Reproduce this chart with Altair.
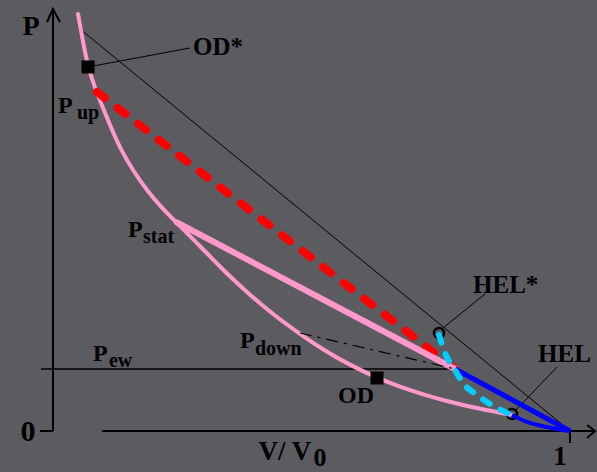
import altair as alt
import pandas as pd

# Plot frame in data units (V/V0 horizontally, P vertically)
V_MIN, V_MAX = -0.1025, 1.0522
P_MIN, P_MAX = -0.0972, 1.0213
BG = "#5c5b60"

# Pink loading curve (cold compression branch), V/V0 vs P
curve_v = [0.0484, 0.0580, 0.0677, 0.0812, 0.0967, 0.1141, 0.1335, 0.1567, 0.1838,
           0.2108, 0.2398, 0.2843, 0.3327, 0.3810, 0.4294, 0.4778, 0.5261, 0.5745,
           0.6228, 0.6712, 0.7195, 0.7679, 0.8259, 0.8878]
curve_p = [0.9882, 0.9218, 0.8626, 0.8128, 0.7654, 0.7133, 0.6611, 0.6137, 0.5664,
           0.5284, 0.4929, 0.4384, 0.3768, 0.3223, 0.2725, 0.2299, 0.1896, 0.1564,
           0.1280, 0.1043, 0.0853, 0.0687, 0.0521, 0.0379]

# Blue elastic branch from HEL down to V/V0 = 1
elastic_v = [0.8878, 0.9033, 0.9226, 0.9555, 0.9865, 1.0]
elastic_p = [0.0379, 0.0284, 0.0190, 0.0095, 0.0024, 0.0]

# Cyan dashed transition from HEL* to HEL
trans_v = [0.7466, 0.7582, 0.7776, 0.7930, 0.8201, 0.8395, 0.8588, 0.8839]
trans_p = [0.2275, 0.1848, 0.1445, 0.1137, 0.0853, 0.0687, 0.0545, 0.0403]

# Characteristic states
J_V, J_P = 0.7776, 0.1469          # P_ew state on the elastic line
STAT_V, STAT_P = 0.2398, 0.4941    # P_stat
UP_V, UP_P = 0.0851, 0.8033        # P_up
DOWN_V, DOWN_P = 0.4778, 0.2322    # P_down
RAY_V, RAY_P = 0.0522, 0.9526      # start of the thin Rayleigh line

marker_names = ["OD*", "OD", "HEL*", "HEL"]
marker_v = [0.0677, 0.6267, 0.7466, 0.8878]
marker_p = [0.8626, 0.1256, 0.2322, 0.0403]

# Leader lines: (v1, p1, v2, p2)
leaders = [
    (0.0677, 0.8626, 0.2650, 0.9076),
    (0.7544, 0.2441, 0.8356, 0.3246),
    (0.8936, 0.0474, 0.9749, 0.1517),
]

# Axes pieces: (v1, p1, v2, p2)
axis_segments = [
    (0.0, 0.0, 0.0, 1.0),          # P axis
    (-0.0251, 0.0, 0.0, 0.0),      # tick at 0
    (0.0948, 0.0, 1.0464, 0.0),    # V/V0 axis
    (1.0, 0.0, 1.0, -0.0284),      # tick at 1
]
arrow_heads = [
    ("y", [-0.0116, 0.0, 0.0135], [0.9692, 1.0, 0.9692]),
    ("x", [1.0329, 1.0484, 1.0329], [0.0142, 0.0, -0.0166]),
]

# Labels: text, v, p, font size
labels_left = [
    ("P", 0.0097, 0.7536, 24), ("up", 0.0464, 0.7393, 20),
    ("P", 0.1451, 0.4597, 24), ("stat", 0.1741, 0.4455, 20),
    ("P", 0.0774, 0.1659, 24), ("ew", 0.1083, 0.1517, 20),
    ("P", 0.3617, 0.1967, 24), ("down", 0.3907, 0.1801, 20),
    ("OD*", 0.2708, 0.8910, 25),
    ("OD", 0.5513, 0.0664, 24),
    ("HEL*", 0.8124, 0.3270, 25),
    ("HEL", 0.9381, 0.1635, 25),
]
labels_center = [
    ("P", -0.0426, 0.9384, 28),
    ("0", -0.0484, -0.0237, 30),
    ("1", 0.9807, -0.0806, 27),
    ("V/ V", 0.4487, -0.0687, 27),
    ("0", 0.5164, -0.0829, 26),
]

xs = alt.Scale(domain=[V_MIN, V_MAX], nice=False, zero=False)
ys = alt.Scale(domain=[P_MIN, P_MAX], nice=False, zero=False)
X = alt.X("v:Q", scale=xs, axis=None)
Y = alt.Y("p:Q", scale=ys, axis=None)


def path(vs, ps):
    return pd.DataFrame({"v": vs, "p": ps, "i": range(len(vs))})


def segs(rows):
    return pd.DataFrame(rows, columns=["v", "p", "v2", "p2"])


def seg_layer(rows, **style):
    return alt.Chart(segs(rows)).mark_rule(**style).encode(
        x=X, y=Y, x2="v2:Q", y2="p2:Q")


def line_layer(vs, ps, **style):
    return alt.Chart(path(vs, ps)).mark_line(**style).encode(
        x=X, y=Y, order="i:Q")


# thin Rayleigh line and leaders
ray = seg_layer([(RAY_V, RAY_P, 1.0, 0.0)], color="black", strokeWidth=1)
leader_lines = seg_layer(leaders, color="black", strokeWidth=1)
ew_line = seg_layer([(-0.0232, J_P, J_V, J_P)], color="black", strokeWidth=1.5)
down_line = seg_layer([(DOWN_V, DOWN_P, J_V, J_P)], color="black",
                      strokeWidth=1.2, strokeDash=[12, 6, 3, 6])
axes = seg_layer(axis_segments, color="black", strokeWidth=2)

arrow_df = pd.concat([
    pd.DataFrame({"a": name, "v": vs, "p": ps, "i": range(3)})
    for name, vs, ps in arrow_heads
])
arrows = alt.Chart(arrow_df).mark_line(color="black", strokeWidth=2).encode(
    x=X, y=Y, detail="a:N", order="i:Q")

pink_curve = line_layer(curve_v, curve_p, color="#ff99cc", strokeWidth=4,
                        interpolate="basis", strokeCap="round")
pink_straight = seg_layer([(STAT_V, STAT_P, J_V, J_P)], color="#ff99cc",
                          strokeWidth=6, strokeCap="round")
red_dash = seg_layer([(UP_V, UP_P, J_V, J_P)], color="#ff0000", strokeWidth=8,
                     strokeDash=[10, 16], strokeCap="round")
blue_straight = seg_layer([(J_V, J_P, 1.0, 0.0)], color="#0000ff", strokeWidth=5)
blue_curve = line_layer(elastic_v, elastic_p, color="#0000ff", strokeWidth=4,
                        interpolate="monotone")
cyan_dash = line_layer(trans_v, trans_p, color="#00ccff", strokeWidth=6,
                       strokeDash=[8, 12], strokeCap="round",
                       interpolate="monotone")

mk = pd.DataFrame({"name": marker_names, "v": marker_v, "p": marker_p})
squares = alt.Chart(mk[mk["name"].str.startswith("OD")]).mark_square(
    color="black", size=169, opacity=1).encode(x=X, y=Y)
circles = alt.Chart(mk[mk["name"].str.startswith("HEL")]).mark_point(
    shape="circle", filled=False, color="black", strokeWidth=2.5, size=100,
    opacity=1).encode(x=X, y=Y)

lab_l = pd.DataFrame(labels_left, columns=["t", "v", "p", "s"])
lab_c = pd.DataFrame(labels_center, columns=["t", "v", "p", "s"])
text_style = dict(font="Liberation Serif", fontWeight="bold", color="black",
                  baseline="alphabetic")
text_l = alt.Chart(lab_l).mark_text(align="left", **text_style).encode(
    x=X, y=Y, text="t:N", size=alt.Size("s:Q", scale=None))
text_c = alt.Chart(lab_c).mark_text(align="center", **text_style).encode(
    x=X, y=Y, text="t:N", size=alt.Size("s:Q", scale=None))

chart = alt.layer(
    ray, leader_lines, ew_line, axes, arrows,
    circles,
    pink_curve, red_dash, pink_straight, down_line,
    blue_straight, blue_curve, cyan_dash,
    squares, text_l, text_c,
).properties(
    width=597, height=472,
    autosize=alt.AutoSizeParams(type="none"),
    padding=0,
    background=BG,
).configure_view(stroke=None)

chart.save("out.html", embed_options={"renderer": "svg", "actions": False})
